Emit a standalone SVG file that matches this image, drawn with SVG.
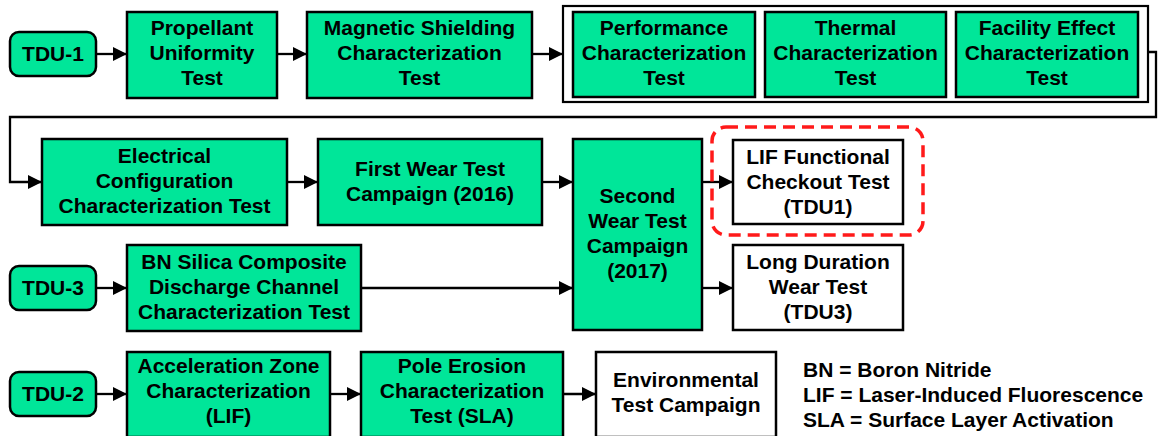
<svg xmlns="http://www.w3.org/2000/svg" width="1159" height="436" viewBox="0 0 1159 436">
<defs>
<style>
.g{fill:#00E699;stroke:#000;stroke-width:2.5}
.w{fill:#fff;stroke:#000;stroke-width:2.5}
.t{font-family:"Liberation Sans",Arial,sans-serif;font-weight:bold;font-size:21px;fill:#000;text-anchor:middle}
.l{font-family:"Liberation Sans",Arial,sans-serif;font-weight:bold;font-size:21px;fill:#000}
.c{fill:none;stroke:#000;stroke-width:2.3;marker-end:url(#ah)}
</style>
<marker id="ah" viewBox="0 0 10 10" refX="10" refY="5" markerWidth="14" markerHeight="14" markerUnits="userSpaceOnUse" orient="auto">
<path d="M0,0 L10,5 L0,10 z" fill="#000"/>
</marker>
</defs>
<rect width="1159" height="436" fill="#fff"/>
<g id="connectors">
<line class="c" x1="96" y1="54" x2="127" y2="54"/>
<line class="c" x1="277" y1="54" x2="307" y2="54"/>
<line class="c" x1="532" y1="54" x2="563" y2="54"/>
<path class="c" d="M1148,52 H1156 V117 H10 V182 H42"/>
<line class="c" x1="287" y1="182" x2="318" y2="182"/>
<line class="c" x1="542" y1="182" x2="573" y2="182"/>
<line class="c" x1="702" y1="182" x2="733" y2="182"/>
<line class="c" x1="96" y1="288" x2="127" y2="288"/>
<line class="c" x1="361" y1="288" x2="573" y2="288"/>
<line class="c" x1="702" y1="288" x2="733" y2="288"/>
<line class="c" x1="96" y1="394" x2="127" y2="394"/>
<line class="c" x1="330" y1="394" x2="361" y2="394"/>
<line class="c" x1="563" y1="394" x2="596" y2="394"/>
</g>
<g id="tdu1"><rect class="g" x="10" y="32" width="86" height="44" rx="9"/><text class="t" x="53" y="61">TDU-1</text></g>
<g id="propellant"><rect class="g" x="127" y="12" width="150" height="86"/><text class="t" x="202" y="35">Propellant</text><text class="t" x="202" y="60">Uniformity</text><text class="t" x="202" y="85">Test</text></g>
<g id="magnetic"><rect class="g" x="307" y="12" width="225" height="86"/><text class="t" x="419.5" y="35">Magnetic Shielding</text><text class="t" x="419.5" y="60">Characterization</text><text class="t" x="419.5" y="85">Test</text></g>
<g id="group1"><rect x="563" y="6" width="585" height="96" fill="none" stroke="#000" stroke-width="2.2"/></g>
<g id="performance"><rect class="g" x="573" y="12" width="182" height="85"/><text class="t" x="664" y="35">Performance</text><text class="t" x="664" y="60">Characterization</text><text class="t" x="664" y="85">Test</text></g>
<g id="thermal"><rect class="g" x="765" y="12" width="181" height="85"/><text class="t" x="855.5" y="35">Thermal</text><text class="t" x="855.5" y="60">Characterization</text><text class="t" x="855.5" y="85">Test</text></g>
<g id="facility"><rect class="g" x="956" y="12" width="182" height="85"/><text class="t" x="1047" y="35">Facility Effect</text><text class="t" x="1047" y="60">Characterization</text><text class="t" x="1047" y="85">Test</text></g>
<g id="electrical"><rect class="g" x="42" y="139" width="245" height="86"/><text class="t" x="164.5" y="163">Electrical</text><text class="t" x="164.5" y="188">Configuration</text><text class="t" x="164.5" y="213">Characterization Test</text></g>
<g id="firstwear"><rect class="g" x="318" y="139" width="224" height="86"/><text class="t" x="430" y="176">First Wear Test</text><text class="t" x="430" y="201">Campaign (2016)</text></g>
<g id="secondwear"><rect class="g" x="573" y="139" width="129" height="191"/><text class="t" x="637.5" y="203">Second</text><text class="t" x="637.5" y="228">Wear Test</text><text class="t" x="637.5" y="253">Campaign</text><text class="t" x="637.5" y="278">(2017)</text></g>
<g id="lif"><rect x="712" y="127" width="211" height="108" rx="14" fill="none" stroke="#FF1A1A" stroke-width="3.5" stroke-dasharray="12 7"/><rect class="w" x="733" y="140" width="170" height="84"/><text class="t" x="818" y="164">LIF Functional</text><text class="t" x="818" y="189">Checkout Test</text><text class="t" x="818" y="214">(TDU1)</text></g>
<g id="tdu3"><rect class="g" x="10" y="266" width="86" height="44" rx="9"/><text class="t" x="53" y="295">TDU-3</text></g>
<g id="bnsilica"><rect class="g" x="127" y="245" width="234" height="86"/><text class="t" x="244" y="269">BN Silica Composite</text><text class="t" x="244" y="294">Discharge Channel</text><text class="t" x="244" y="319">Characterization Test</text></g>
<g id="longduration"><rect class="w" x="733" y="245" width="170" height="85"/><text class="t" x="818" y="269">Long Duration</text><text class="t" x="818" y="294">Wear Test</text><text class="t" x="818" y="319">(TDU3)</text></g>
<g id="tdu2"><rect class="g" x="10" y="372" width="86" height="44" rx="9"/><text class="t" x="53" y="401">TDU-2</text></g>
<g id="acceleration"><rect class="g" x="127" y="352" width="203" height="85"/><text class="t" x="228.5" y="373">Acceleration Zone</text><text class="t" x="228.5" y="398">Characterization</text><text class="t" x="228.5" y="423">(LIF)</text></g>
<g id="poleerosion"><rect class="g" x="361" y="352" width="202" height="85"/><text class="t" x="462" y="373">Pole Erosion</text><text class="t" x="462" y="398">Characterization</text><text class="t" x="462" y="423">Test (SLA)</text></g>
<g id="environmental"><rect class="w" x="596" y="352" width="180" height="85"/><text class="t" x="686" y="387">Environmental</text><text class="t" x="686" y="412">Test Campaign</text></g>
<g id="legend"><text class="l" x="803" y="377">BN = Boron Nitride</text><text class="l" x="803" y="402">LIF = Laser-Induced Fluorescence</text><text class="l" x="803" y="427">SLA = Surface Layer Activation</text></g>
</svg>
